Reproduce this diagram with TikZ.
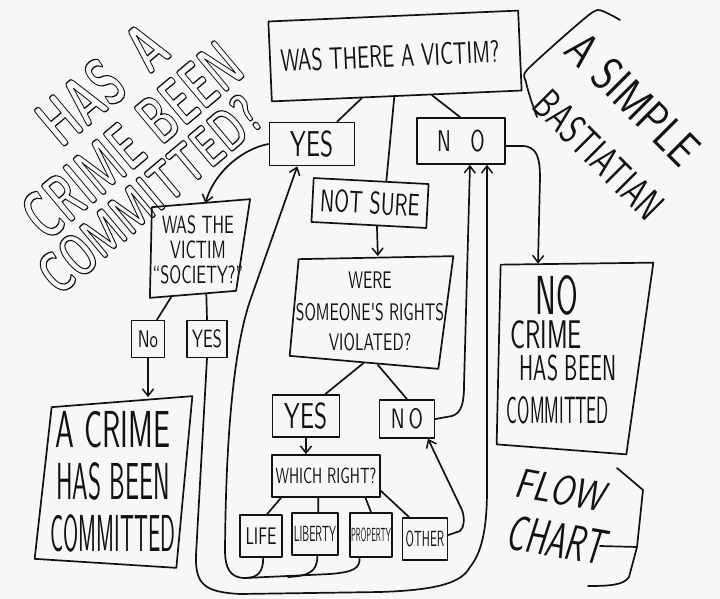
\documentclass[tikz,border=0pt]{standalone}
\usepackage{fontspec}
\usetikzlibrary{arrows.meta,calc}
\newfontfamily\hand{lmsans10-regular.otf}
\newfontfamily\handL{lmsans17-regular.otf}
\newfontfamily\handb{lmsans10-bold.otf}
\newfontfamily\handi{lmsans17-oblique.otf}
\definecolor{paper}{RGB}{245,247,248}
\definecolor{ink}{RGB}{18,18,18}
\newcommand\sqz[2]{\scalebox{#1}[1]{#2}}
\newcommand\fsz[1]{\fontsize{#1}{#1}\selectfont}
\newcommand\hollow[1]{\special{pdf:literal direct 1 Tr 1.3 w}#1\special{pdf:literal direct 0 Tr}}
\begin{document}
\begin{tikzpicture}[x=1pt,y=-1pt,line width=1.7pt,line cap=round,line join=round,ink,
  box/.style={draw,rectangle,inner sep=0pt,align=center},
  qbox/.style={rectangle,inner sep=0pt,align=center},
  txt/.style={inner sep=0pt,align=center},
  arr/.style={-{Straight Barb[length=7pt,width=11pt,line width=1.5pt]}}]
\useasboundingbox (0,0) rectangle (720,599);
\fill[paper] (0,0) rectangle (720,599);

% ---------- boxes ----------
\node[box,minimum width=250,minimum height=80,rotate=2.5,font=\hand\fsz{31}] (victim) at (395,56) {\sqz{.65}{WAS THERE A VICTIM?}\hspace*{10pt}};
\node[box,minimum width=85,minimum height=43,font=\hand\fsz{36}] (yes1) at (312,144) {\sqz{.65}{YES}};
\node[box,minimum width=88,minimum height=46,font=\hand\fsz{30}] (no1) at (461,141) {\sqz{.65}{N\hspace{1em}O}};
\node[box,minimum width=115,minimum height=44,rotate=-3,font=\hand\fsz{31}] (notsure) at (370,203) {\sqz{.65}{NOT SURE}};
\node[qbox,minimum width=155,minimum height=106,font=\hand\fsz{24}] (were) at (370,311)
  {\sqz{.65}{WERE}\\[8pt]\sqz{.65}{SOMEONE'S RIGHTS}\\[6pt]\sqz{.65}{VIOLATED?}};
\draw ([shift={(7pt,-2pt)}]were.north west) -- ([shift={(5pt,1pt)}]were.north east)
  -- ([shift={(-10pt,-4pt)}]were.south east) -- ([shift={(-2pt,9pt)}]were.south west) -- cycle;
\node[qbox,minimum width=87,minimum height=90,font=\hand\fsz{25}] (society) at (198,250)
  {\sqz{.65}{WAS THE}\\\sqz{.65}{VICTIM}\\\sqz{.65}{“SOCIETY?”}};
\draw ([shift={(0pt,-3pt)}]society.north west) -- ([shift={(6pt,5pt)}]society.north east)
  -- ([shift={(-8pt,5pt)}]society.south east) -- ([shift={(-2pt,-2pt)}]society.south west) -- cycle;
\node[box,minimum width=33,minimum height=37,font=\hand\fsz{24}] (sno) at (148,339) {\sqz{.7}{No}};
\node[box,minimum width=40,minimum height=37,font=\hand\fsz{25}] (syes) at (207,339) {\sqz{.65}{YES}};
\node[qbox,minimum width=145,minimum height=158,font=\handL\fsz{52}] (crime) at (113,482)
  {\sqz{.58}{A CRIME}\\\sqz{.48}{HAS BEEN}\\\sqz{.42}{COMMITTED}};
\draw ([shift={(12pt,-5pt)}]crime.north west) -- ([shift={(6pt,6pt)}]crime.north east)
  -- ([shift={(-10pt,-6pt)}]crime.south east) -- ([shift={(-5pt,3pt)}]crime.south west) -- cycle;
\node[qbox,minimum width=145,minimum height=185] (nocrime) at (570,358) {};
\draw ([shift={(4pt,0pt)}]nocrime.north west) -- ([shift={(10pt,2pt)}]nocrime.north east)
  -- ([shift={(-17pt,-3pt)}]nocrime.south east) -- ([shift={(0pt,7pt)}]nocrime.south west) -- cycle;
\node[txt,font=\handL\fsz{55}] (nc1) at (557,295) {\sqz{.57}{NO}};
\node[txt,font=\handL\fsz{40}] (nc2) at (546,335) {\sqz{.63}{CRIME}};
\node[txt,font=\handL\fsz{36}] (nc3) at (568,368) {\sqz{.59}{HAS BEEN}};
\node[txt,font=\handL\fsz{38}] (nc4) at (558,410) {\sqz{.47}{COMMITTED}};
\node[box,minimum width=67,minimum height=42,font=\hand\fsz{36}] (wyes) at (306,416) {\sqz{.65}{YES}};
\node[box,minimum width=55,minimum height=38,font=\hand\fsz{28}] (wno) at (407,419) {\sqz{.7}{N\hspace{.2em}O}};
\node[box,minimum width=108,minimum height=42,font=\hand\fsz{22}] (which) at (326,476) {\sqz{.65}{WHICH RIGHT?}};
\node[box,minimum width=42,minimum height=42,font=\hand\fsz{24}] (life) at (261,536) {\sqz{.65}{LIFE}};
\node[box,minimum width=46,minimum height=42,font=\hand\fsz{22}] (liberty) at (315,534) {\sqz{.47}{LIBERTY}};
\node[box,minimum width=42,minimum height=44,font=\hand\fsz{19}] (property) at (371,535) {\sqz{.4}{PROPERTY}};
\node[box,minimum width=45,minimum height=42,font=\hand\fsz{22}] (other) at (425,539) {\sqz{.52}{OTHER}};

% ---------- connectors ----------
\draw ($(victim.south west)!.36!(victim.south east)$) -- ($(yes1.north west)!.79!(yes1.north east)$);
\draw ($(victim.south west)!.49!(victim.south east)$) -- ($(notsure.north west)!.63!(notsure.north east)$);
\draw ($(victim.south west)!.64!(victim.south east)$) -- ($(no1.north west)!.49!(no1.north east)$);
\draw[arr] (yes1.west) .. controls (245,148) and (215,170) .. ([yshift=1pt]$(society.north west)!.58!(society.north east)$);
\draw[arr] ($(notsure.south west)!.57!(notsure.south east)$) -- ([yshift=1pt]$(were.north west)!.55!(were.north east)$);
\draw[arr] ([yshift=-5pt]no1.east) -- (522,146) .. controls (537,146) and (540,158) .. (540,178) -- ([shift={(-32pt,1pt)}]nocrime.north);
\draw ([yshift=2pt]$(were.south west)!.46!(were.south east)$) -- ($(wyes.north west)!.78!(wyes.north east)$);
\draw ([yshift=0pt]$(were.south west)!.55!(were.south east)$) -- (wno.north);
\draw[arr] (wyes.south) -- (wyes.south |- which.north);
\draw[arr] (wno.east) -- (452,416) .. controls (462,413) and (464,402) .. (464,385) -- ([xshift=9pt]no1.south);
\draw ([yshift=-1pt]$(society.south west)!.21!(society.south east)$) -- ($(sno.north west)!.76!(sno.north east)$);
\draw ([yshift=2pt]$(society.south west)!.59!(society.south east)$) -- (syes.north);
\draw[arr] (sno.south) -- ([yshift=5pt]sno.south |- crime.north);
\draw ($(which.south west)!.09!(which.south east)$) -- ($(life.north west)!.64!(life.north east)$);
\draw ($(which.south west)!.43!(which.south east)$) -- ($(liberty.north west)!.57!(liberty.north east)$);
\draw ($(which.south west)!.86!(which.south east)$) -- (property.north);
\draw ([yshift=7pt]which.south east) -- ($(other.north west)!.16!(other.north east)$);
\draw[arr] ([yshift=4pt]other.east) -- (460,531) .. controls (464,528) and (465,518) .. (462,510) -- ($(wno.south west)!.87!(wno.south east)$);
% inner loop back to YES
\coordinate (ij) at (245,578);
\coordinate (ij2) at (288,577);
\draw[arr] ($(property.south west)!.24!(property.south east)$) .. controls +(0,10) and (355,572) .. (330,574) -- (ij)
  .. controls (230,578) and (225,568) .. (225,550) .. controls (226,420) and (236,340) .. (251,298)
  -- ($(yes1.south west)!.33!(yes1.south east)$);
\draw ($(life.south west)!.55!(life.south east)$) .. controls +(0,14) and (258,578) .. (ij);
\draw ($(liberty.south west)!.55!(liberty.south east)$) .. controls +(0,15) and (310,576) .. (ij2);
% outer loop back to NO
\draw[arr] (syes.south) -- (196,555) .. controls (195,585) and (205,592) .. (240,594) -- (380,592)
  .. controls (440,590) and (462,582) .. (470,567) .. controls (484,550) and (487,520) .. (487,490)
  -- ([xshift=26pt]no1.south);

% ---------- side lettering ----------
\node[txt,rotate=-45,font=\handL\fsz{48}] (s1) at (633,99) {\sqz{.82}{A SIMPLE}};
\node[txt,rotate=-45,font=\handL\fsz{42}] (s2) at (599,155) {\sqz{.72}{BASTIATIAN}};
\draw plot[smooth,tension=.4] coordinates {(620,20) (598,10) (578,24) (527,70) (526,82) (531,100) (537,117)};
\node[txt,rotate=-10,font=\handi\fsz{42}] (f1) at (560,490) {\sqz{.81}{FLOW}};
\node[txt,rotate=-10,font=\handi\fsz{50}] (f2) at (556,540) {\sqz{.63}{CHART}};
\draw (617,468) -- (643,490) -- (637,547) -- (629,577) .. controls (624,585) and (610,586) .. (588,586);
\draw (600,546) -- (637,547);

% ---------- title ----------
\node[txt,rotate=40,font=\handb\fsz{68}] (t1) at (102,84) {\hollow{\sqz{.62}{HAS\hspace{.6em}A}}};
\node[txt,rotate=40,font=\handb\fsz{68}] (t2) at (132,140) {\hollow{\sqz{.59}{CRIME BEEN}}};
\node[txt,rotate=40,font=\handb\fsz{58}] (t3) at (150,194) {\hollow{\sqz{.65}{COMMITTED?}}};
\end{tikzpicture}
\end{document}
